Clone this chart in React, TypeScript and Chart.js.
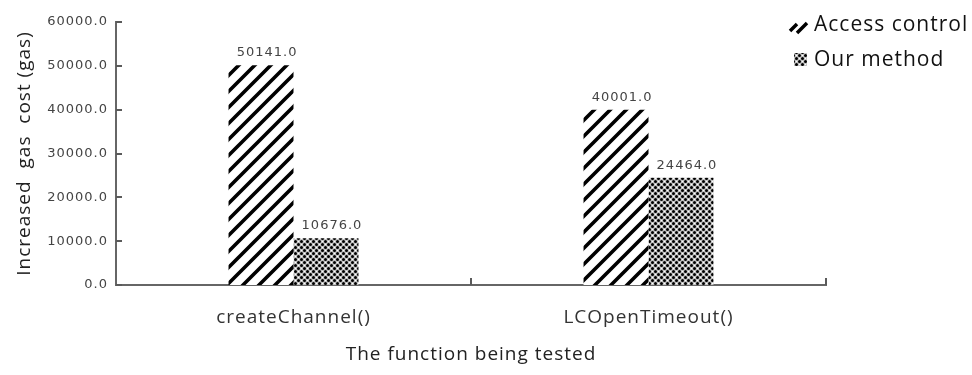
import React, { useEffect, useRef } from "react";
import { Chart, registerables } from "chart.js";

Chart.register(...registerables);

const categories = ["createChannel()", "LCOpenTimeout()"];
const accessControl = [50141.0, 40001.0];
const ourMethod = [10676.0, 24464.0];
const seriesNames = ["Access control", "Our method"];
const yTickValues = [0, 10000, 20000, 30000, 40000, 50000, 60000];
const yTitle = "Increased  gas  cost (gas)";
const xTitle = "The function being tested";

function makeStripePattern(): CanvasPattern | string {
  const c = document.createElement("canvas");
  c.width = 16;
  c.height = 16;
  const g = c.getContext("2d")!;
  g.fillStyle = "#ffffff";
  g.fillRect(0, 0, 16, 16);
  g.strokeStyle = "#000000";
  g.lineWidth = 3.6;
  g.beginPath();
  for (let k = -16; k <= 32; k += 16) {
    g.moveTo(k - 2, 18);
    g.lineTo(k + 18, -2);
  }
  g.stroke();
  const p = g.createPattern(c, "repeat");
  return p || "#000";
}

function makeDotPattern(): CanvasPattern | string {
  const c = document.createElement("canvas");
  c.width = 6;
  c.height = 6;
  const g = c.getContext("2d")!;
  g.fillStyle = "#c4c4c4";
  g.fillRect(0, 0, 6, 6);
  g.fillStyle = "#000000";
  g.beginPath();
  g.arc(1.5, 1.5, 1.5, 0, Math.PI * 2);
  g.arc(4.5, 4.5, 1.5, 0, Math.PI * 2);
  g.fill();
  g.fillStyle = "#ffffff";
  g.fillRect(4, 1, 1, 1);
  g.fillRect(1, 4, 1, 1);
  const p = g.createPattern(c, "repeat");
  return p || "#444";
}

const decorPlugin = {
  id: "decor",
  beforeDraw(chart: any) {
    (chart.ctx as any).letterSpacing = "1px";
  },
  afterDraw(chart: any) {
    const ctx = chart.ctx;
    const area = chart.chartArea;
    const y = chart.scales.y;
    ctx.save();
    ctx.letterSpacing = "1px";
    ctx.strokeStyle = "#5a5a5a";
    ctx.lineWidth = 2;
    ctx.beginPath();
    for (const v of yTickValues) {
      const py = Math.round(y.getPixelForValue(v));
      ctx.moveTo(area.left, py);
      ctx.lineTo(area.left + 6, py);
    }
    const n = categories.length;
    for (let i = 1; i <= n; i++) {
      const px = area.left + ((area.right - area.left) * i) / n;
      ctx.moveTo(px, area.bottom);
      ctx.lineTo(px, area.bottom - 7);
    }
    ctx.stroke();

    // data labels
    ctx.fillStyle = "#444";
    ctx.font = "13px 'DejaVu Sans'";
    ctx.textAlign = "center";
    ctx.textBaseline = "bottom";
    chart.data.datasets.forEach((ds: any, di: number) => {
      const meta = chart.getDatasetMeta(di);
      meta.data.forEach((el: any, i: number) => {
        ctx.fillText(Number(ds.data[i]).toFixed(1), el.x + 6, el.y - 6);
      });
    });

    // legend
    ctx.textAlign = "left";
    ctx.textBaseline = "middle";
    ctx.font = "21px 'Open Sans'";
    ctx.fillStyle = "#111";
    const lx = 814;
    const ly = [25, 60];
    ctx.save();
    ctx.strokeStyle = "#000";
    ctx.lineWidth = 3.5;
    ctx.beginPath();
    ctx.moveTo(790, 31);
    ctx.lineTo(797, 24);
    ctx.moveTo(797, 33);
    ctx.lineTo(807, 23);
    ctx.stroke();
    ctx.restore();
    ctx.fillText(seriesNames[0], lx, ly[0]);
    ctx.save();
    ctx.fillStyle = chart.data.datasets[1].backgroundColor;
    ctx.fillRect(794, 53, 13, 13);
    ctx.restore();
    ctx.fillText(seriesNames[1], lx, ly[1]);
    ctx.restore();
  },
};

export default function App() {
  const ref = useRef<HTMLCanvasElement | null>(null);

  useEffect(() => {
    if (!ref.current) return;
    const chart = new Chart(ref.current, {
      type: "bar",
      data: {
        labels: categories,
        datasets: [
          {
            label: seriesNames[0],
            data: accessControl,
            backgroundColor: makeStripePattern() as any,
            borderWidth: 0,
            categoryPercentage: 0.366,
            barPercentage: 1,
          },
          {
            label: seriesNames[1],
            data: ourMethod,
            backgroundColor: makeDotPattern() as any,
            borderWidth: 0,
            categoryPercentage: 0.366,
            barPercentage: 1,
          },
        ],
      },
      options: {
        animation: false,
        responsive: false,
        maintainAspectRatio: false,
        layout: { padding: { top: 22, right: 146, left: 0, bottom: 0 } },
        plugins: {
          legend: { display: false },
          tooltip: { enabled: false },
        },
        scales: {
          x: {
            grid: { display: false, drawTicks: false },
            border: { display: true, color: "#666", width: 2 },
            ticks: {
              color: "#333",
              font: { family: "'Open Sans'", size: 19 },
              padding: 21,
            },
            title: {
              display: true,
              text: xTitle,
              color: "#222",
              font: { family: "'Open Sans'", size: 19 },
              padding: { top: 0, bottom: 9 },
            },
            afterFit: (s: any) => {
              s.height = 90;
            },
          },
          y: {
            min: 0,
            max: 60000,
            grid: { display: false, drawTicks: false },
            border: { display: true, color: "#666", width: 2 },
            afterBuildTicks: (s: any) => {
              s.ticks = yTickValues.map((v) => ({ value: v }));
            },
            ticks: {
              color: "#444",
              font: { family: "'DejaVu Sans'", size: 13 },
              padding: 8,
              callback: (v: any) => Number(v).toFixed(1),
            },
            title: {
              display: true,
              text: yTitle,
              color: "#222",
              font: { family: "'Open Sans'", size: 19 },
              padding: { top: 13, bottom: 0 },
            },
            afterFit: (s: any) => {
              s.width = 116;
            },
          },
        },
      },
      plugins: [decorPlugin],
    });
    return () => chart.destroy();
  }, []);

  return (
    <div style={{ position: "fixed", left: 0, top: 0, width: 972, height: 375, background: "#fff" }}>
      <canvas ref={ref} width={972} height={375} style={{ width: 972, height: 375, display: "block" }} />
    </div>
  );
}
